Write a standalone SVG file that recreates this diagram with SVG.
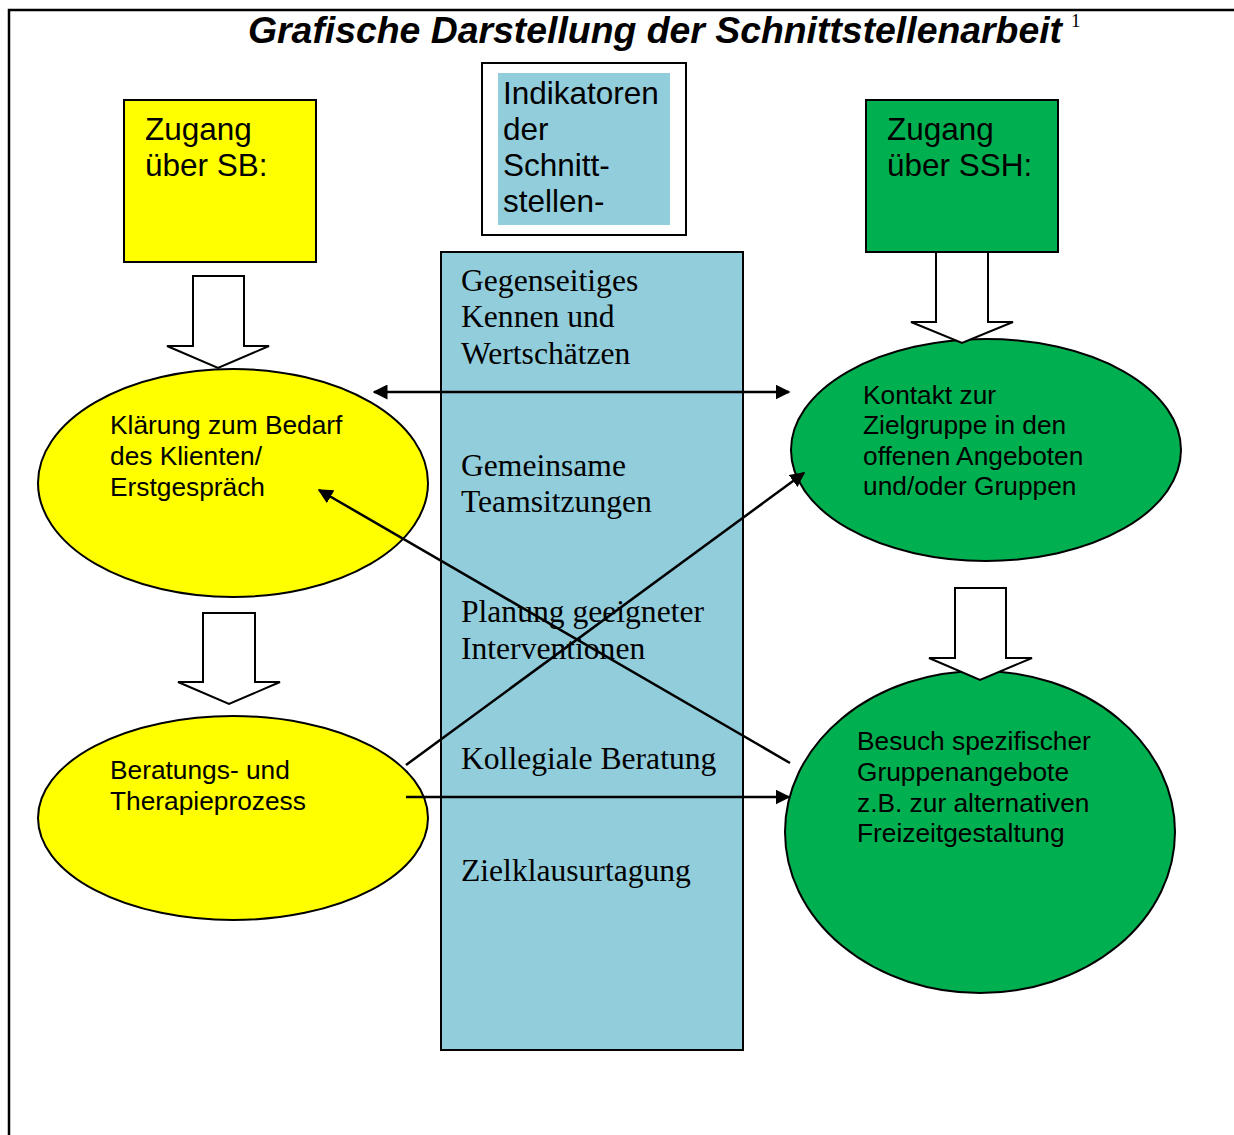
<svg xmlns="http://www.w3.org/2000/svg" width="1234" height="1135" viewBox="0 0 1234 1135">
<defs>
<style>
.sans{font-family:"Liberation Sans",Arial,sans-serif;fill:#000}
.serif{font-family:"Liberation Serif","Times New Roman",serif;fill:#000}
.big{font-size:31.5px}
.ell{font-size:26.3px}
.ind{font-size:31.6px}
.node{stroke:#000;stroke-width:2}
.blk{fill:#fff;stroke:#000;stroke-width:2;stroke-linejoin:miter}
.con{stroke:#000;stroke-width:2.5;fill:none}
</style>
<marker id="ah" viewBox="0 0 10 10" refX="9" refY="5" markerWidth="6" markerHeight="6" orient="auto-start-reverse" markerUnits="strokeWidth">
<path d="M0,0 L10,5 L0,10 z" fill="#000"/>
</marker>
</defs>
<rect width="1234" height="1135" fill="#fff"/>
<g id="border">
<path d="M9,1135 V10 H1234" fill="none" stroke="#000" stroke-width="2.5"/>
</g>
<g id="title">
<text x="248" y="43" class="sans" font-size="36" font-weight="bold" font-style="italic" textLength="814" lengthAdjust="spacingAndGlyphs">Grafische Darstellung der Schnittstellenarbeit</text>
<text x="1071" y="27" class="serif" font-size="19">1</text>
</g>
<g id="zugang-sb">
<rect x="124" y="100" width="192" height="162" fill="#FFFF00" class="node"/>
<text class="sans big" x="145" y="140">Zugang</text>
<text class="sans big" x="145" y="176">über SB:</text>
</g>
<g id="indikatoren-titel">
<rect x="482" y="63" width="204" height="172" fill="#fff" class="node"/>
<rect x="498" y="73" width="172" height="152" fill="#92CDDC"/>
<text class="sans big" x="503" y="104">Indikatoren</text>
<text class="sans big" x="503" y="140">der</text>
<text class="sans big" x="503" y="176">Schnitt-</text>
<text class="sans big" x="503" y="212">stellen-</text>
</g>
<g id="zugang-ssh">
<rect x="866" y="100" width="192" height="152" fill="#00B050" class="node"/>
<text class="sans big" x="887" y="140">Zugang</text>
<text class="sans big" x="887" y="176">über SSH:</text>
</g>
<g id="indikatoren">
<rect x="441" y="252" width="302" height="798" fill="#92CDDC" class="node"/>
<text class="serif ind" x="461" y="291">Gegenseitiges</text>
<text class="serif ind" x="461" y="327">Kennen und</text>
<text class="serif ind" x="461" y="364">Wertschätzen</text>
<text class="serif ind" x="461" y="476">Gemeinsame</text>
<text class="serif ind" x="461" y="512">Teamsitzungen</text>
<text class="serif ind" x="461" y="622">Planung geeigneter</text>
<text class="serif ind" x="461" y="659">Interventionen</text>
<text class="serif ind" x="461" y="769">Kollegiale Beratung</text>
<text class="serif ind" x="461" y="881">Zielklausurtagung</text>
</g>
<g id="klaerung">
<ellipse cx="233" cy="483" rx="195" ry="114" fill="#FFFF00" class="node"/>
<text class="sans ell" x="110" y="434">Klärung zum Bedarf</text>
<text class="sans ell" x="110" y="465">des Klienten/</text>
<text class="sans ell" x="110" y="496">Erstgespräch</text>
</g>
<g id="beratung">
<ellipse cx="233" cy="818" rx="195" ry="102" fill="#FFFF00" class="node"/>
<text class="sans ell" x="110" y="779">Beratungs- und</text>
<text class="sans ell" x="110" y="810">Therapieprozess</text>
</g>
<g id="kontakt">
<ellipse cx="986" cy="450" rx="195" ry="111" fill="#00B050" class="node"/>
<text class="sans ell" x="863" y="404">Kontakt zur</text>
<text class="sans ell" x="863" y="434">Zielgruppe in den</text>
<text class="sans ell" x="863" y="465">offenen Angeboten</text>
<text class="sans ell" x="863" y="495">und/oder Gruppen</text>
</g>
<g id="besuch">
<ellipse cx="980" cy="832" rx="195" ry="161" fill="#00B050" class="node"/>
<text class="sans ell" x="857" y="750">Besuch spezifischer</text>
<text class="sans ell" x="857" y="781">Gruppenangebote</text>
<text class="sans ell" x="857" y="812">z.B. zur alternativen</text>
<text class="sans ell" x="857" y="842">Freizeitgestaltung</text>
</g>
<g id="block-arrows">
<path class="blk" d="M193,276 H244 V346 H269 L218,368 L167,346 H193 Z"/>
<path class="blk" d="M936,252 H988 V322 H1013 L962,343 L911,322 H936 Z"/>
<path class="blk" d="M203,613 H255 V682 H280 L229,704 L178,682 H203 Z"/>
<path class="blk" d="M955,588 H1006 V658 H1032 L980,680 L929,658 H955 Z"/>
</g>
<g id="connectors">
<line class="con" x1="374" y1="392" x2="789" y2="392" marker-start="url(#ah)" marker-end="url(#ah)"/>
<line class="con" x1="790" y1="763" x2="319" y2="490" marker-end="url(#ah)"/>
<line class="con" x1="406" y1="765" x2="804" y2="473" marker-end="url(#ah)"/>
<line class="con" x1="406" y1="797" x2="789" y2="797" marker-end="url(#ah)"/>
</g>
</svg>
